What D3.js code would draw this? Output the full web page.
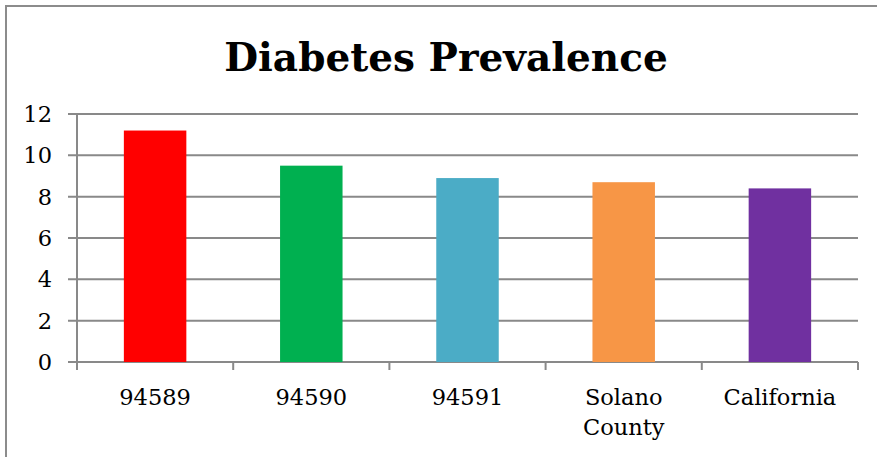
<!DOCTYPE html>
<html>
<head>
<meta charset="utf-8">
<script src="https://cdn.jsdelivr.net/npm/d3@7"></script>
<style>
  body { margin: 0; background: #fff; }
  text { font-family: "DejaVu Serif", serif; fill: #000; }
</style>
</head>
<body>
<div id="chart"></div>
<script>
var categories = ["94589", "94590", "94591", "Solano County", "California"];
var values = [11.2, 9.5, 8.9, 8.7, 8.4];
var colors = ["#ff0000", "#00b050", "#4bacc6", "#f79646", "#7030a0"];
var yTicks = [0, 2, 4, 6, 8, 10, 12];

var width = 877, height = 457;
var margin = { top: 114, right: 19, bottom: 95, left: 77 };
var gridColor = "#898989";

var svg = d3.select("#chart")
    .append("svg")
    .attr("width", width)
    .attr("height", height);

// outer chart border (right and bottom edges run off the picture)
svg.append("rect")
    .attr("x", 6).attr("y", 6)
    .attr("width", 1000).attr("height", 1000)
    .attr("fill", "none")
    .attr("stroke", "#8c8c8c")
    .attr("stroke-width", 2);

svg.append("text")
    .attr("x", 446)
    .attr("y", 71)
    .attr("text-anchor", "middle")
    .style("font-size", "39px")
    .style("font-weight", "bold")
    .text("Diabetes Prevalence");

var x = d3.scaleBand()
    .domain(categories)
    .range([margin.left, width - margin.right])
    .paddingInner(0.6)
    .paddingOuter(0.3);

var y = d3.scaleLinear()
    .domain([0, 12])
    .range([height - margin.bottom, margin.top]);

// horizontal gridlines, extending left as tick marks
svg.append("g")
    .selectAll("line")
    .data(yTicks)
    .enter().append("line")
    .attr("x1", margin.left - 9)
    .attr("x2", width - margin.right)
    .attr("y1", function (d) { return y(d); })
    .attr("y2", function (d) { return y(d); })
    .attr("stroke", gridColor)
    .attr("stroke-width", 2);

// y axis line
svg.append("line")
    .attr("x1", margin.left).attr("x2", margin.left)
    .attr("y1", y(12) - 1).attr("y2", y(0) + 8)
    .attr("stroke", gridColor)
    .attr("stroke-width", 2);

// x axis category ticks
var step = (width - margin.right - margin.left) / categories.length;
svg.append("g")
    .selectAll("line")
    .data(d3.range(1, categories.length + 1))
    .enter().append("line")
    .attr("x1", function (i) { return margin.left + i * step; })
    .attr("x2", function (i) { return margin.left + i * step; })
    .attr("y1", y(0))
    .attr("y2", y(0) + 8)
    .attr("stroke", gridColor)
    .attr("stroke-width", 2);

// y tick labels
svg.append("g")
    .selectAll("text")
    .data(yTicks)
    .enter().append("text")
    .attr("x", 52)
    .attr("y", function (d) { return y(d) + 8; })
    .attr("text-anchor", "end")
    .style("font-size", "22.5px")
    .text(function (d) { return d; });

// bars
svg.append("g")
    .selectAll("rect")
    .data(values)
    .enter().append("rect")
    .attr("x", function (d, i) { return x(categories[i]); })
    .attr("width", x.bandwidth())
    .attr("y", function (d) { return y(d); })
    .attr("height", function (d) { return y(0) - y(d); })
    .attr("fill", function (d, i) { return colors[i]; });

// x labels (wrap on spaces)
var xl = svg.append("g")
    .selectAll("text")
    .data(categories)
    .enter().append("text")
    .attr("text-anchor", "middle")
    .style("font-size", "22.5px")
    .attr("x", function (d) { return x(d) + x.bandwidth() / 2; })
    .attr("y", 405);

xl.each(function (d) {
    var words = d.split(" ");
    var t = d3.select(this);
    words.forEach(function (w, k) {
        t.append("tspan")
            .attr("x", x(d) + x.bandwidth() / 2)
            .attr("dy", k == 0 ? 0 : 30)
            .text(w);
    });
});
</script>
</body>
</html>
